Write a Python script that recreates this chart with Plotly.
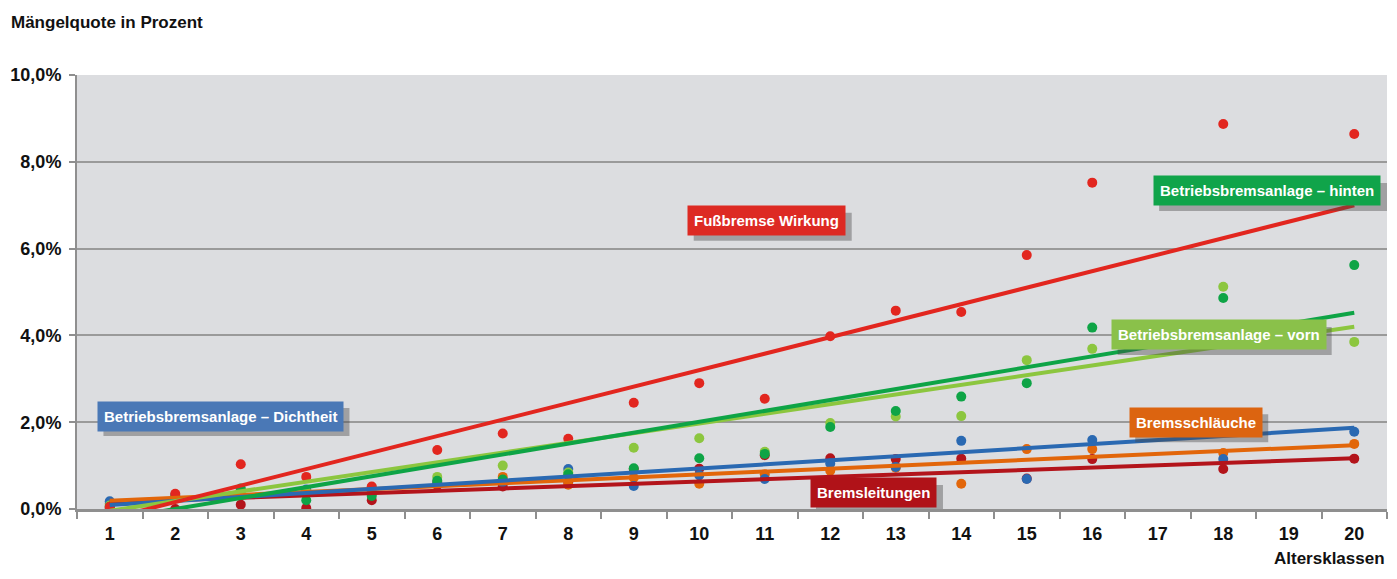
import plotly.graph_objects as go

# Altersklassen (no data for 17 and 19)
klassen = [1, 2, 3, 4, 5, 6, 7, 8, 9, 10, 11, 12, 13, 14, 15, 16, 18, 20]

# Mängelquote in % per series
fussbremse = [0.05, 0.35, 1.03, 0.74, 0.52, 1.36, 1.74, 1.62, 2.45, 2.90, 2.54, 3.98, 4.57, 4.54, 5.85, 7.52, 8.87, 8.64]
hinten = [0.05, 0.25, 0.47, 0.20, 0.30, 0.65, 0.68, 0.80, 0.94, 1.17, 1.27, 1.89, 2.26, 2.59, 2.90, 4.18, 4.86, 5.62]
vorn = [0.08, 0.28, 0.45, 0.40, 0.50, 0.74, 1.00, 0.84, 1.41, 1.63, 1.32, 1.98, 2.13, 2.14, 3.43, 3.69, 5.12, 3.85]
dichtheit = [0.18, 0.32, 0.35, 0.45, 0.40, 0.60, 0.62, 0.92, 0.53, 0.78, 0.69, 1.05, 0.97, 1.57, 0.69, 1.59, 1.15, 1.78]
schlaeuche = [0.12, 0.30, 0.33, 0.35, 0.35, 0.62, 0.74, 0.56, 0.72, 0.58, 0.80, 0.88, 0.95, 0.58, 1.38, 1.38, 1.29, 1.50]
leitungen = [0.02, 0.00, 0.10, 0.02, 0.20, 0.55, 0.52, 0.62, 0.92, 0.93, 1.24, 1.17, 1.15, 1.16, 0.70, 1.15, 0.92, 1.16]

# trend lines as drawn (value at class 1 and class 20)
trend_x = [1, 20]
trend = {
    "fussbremse": [-0.22, 7.00],
    "hinten": [-0.25, 4.52],
    "vorn": [-0.04, 4.20],
    "dichtheit": [0.09, 1.87],
    "schlaeuche": [0.19, 1.47],
    "leitungen": [0.15, 1.17],
}

# key, values, dot colour, box colour, label, label x, label y, box width px
series = [
    ("leitungen", leitungen, "#b3141b", "#b01218", "Bremsleitungen", 12.66, 0.37, 127),
    ("schlaeuche", schlaeuche, "#e2660a", "#dc6410", "Bremsschläuche", 17.58, 2.0, 133),
    ("dichtheit", dichtheit, "#2a69b2", "#4a78b6", "Betriebsbremsanlage – Dichtheit", 2.69, 2.14, 246),
    ("vorn", vorn, "#8cc63f", "#8ac14a", "Betriebsbremsanlage – vorn", 17.93, 4.01, 214),
    ("hinten", hinten, "#0ea446", "#10a44a", "Betriebsbremsanlage – hinten", 18.67, 7.33, 228),
    ("fussbremse", fussbremse, "#e2261f", "#dd2a23", "Fußbremse Wirkung", 11.03, 6.64, 158),
]

fig = go.Figure()

for key, vals, col, _, name, _, _, _ in series:
    fig.add_trace(go.Scatter(x=klassen, y=vals, mode="markers", name=name,
                             marker=dict(color=col, size=10), showlegend=False))

for key, vals, col, _, name, _, _, _ in series:
    fig.add_trace(go.Scatter(x=trend_x, y=trend[key], mode="lines",
                             line=dict(color=col, width=4), showlegend=False,
                             hoverinfo="skip"))

label_font = "Liberation Sans Narrow, Arial Narrow, Liberation Sans, Arial, sans-serif"
box_h = 28
for key, vals, col, boxcol, name, lx, ly, bw in series:
    # drop shadow behind the label box
    fig.add_shape(type="rect", xref="x", yref="y", xsizemode="pixel", ysizemode="pixel",
                  xanchor=lx, yanchor=ly,
                  x0=-bw / 2 + 6, x1=bw / 2 + 6, y0=-box_h / 2 - 6, y1=box_h / 2 - 6,
                  fillcolor="rgba(70,70,70,0.4)", line=dict(width=0), layer="above")
    fig.add_annotation(x=lx, y=ly, text="<b>" + name + "</b>", showarrow=False,
                       bgcolor=boxcol, borderpad=6,
                       font=dict(family=label_font, size=15, color="white"))

fig.add_annotation(xref="paper", yref="paper", x=-0.052, y=1.122, xanchor="left", yanchor="middle",
                   text="<b>Mängelquote in Prozent</b>", showarrow=False,
                   font=dict(family=label_font, size=17, color="#111"))
fig.add_annotation(xref="paper", yref="paper", x=1.0, y=-0.1406, xanchor="right", yanchor="bottom",
                   text="<b>Altersklassen</b>", showarrow=False,
                   font=dict(family=label_font, size=17, color="#111"))

# page adds an 8px body margin, so the figure is 16px smaller than the window
fig.update_layout(
    width=1381, height=563,
    margin=dict(l=64, r=2, t=67, b=62),
    paper_bgcolor="white",
    plot_bgcolor="#dcdde0",
    separators=",.",
    font=dict(family="Liberation Sans, Arial, sans-serif", size=16, color="#111"),
)
fig.update_xaxes(
    range=[0.5, 20.5], tickvals=list(range(1, 21)), ticks="", showgrid=False, zeroline=False,
    showline=True, linecolor="#8f8f8f", linewidth=3, ticklabelstandoff=6,
    tickfont=dict(family="Liberation Sans, Arial, sans-serif", size=18, color="#111", weight="bold"),
    minor=dict(tick0=0.5, dtick=1, ticks="outside", ticklen=7, tickcolor="#8f8f8f", tickwidth=2),
)
fig.update_yaxes(
    range=[0, 10], dtick=2, tickformat=".1f", ticksuffix="%", showgrid=True,
    gridcolor="#9a9a9a", gridwidth=1.5, zeroline=False,
    showline=True, linecolor="#8f8f8f", linewidth=2,
    ticks="outside", ticklen=6, tickcolor="#8f8f8f", tickwidth=2, ticklabelstandoff=4,
    tickfont=dict(family="Liberation Sans, Arial, sans-serif", size=18, color="#111", weight="bold"),
)

fig.write_html("out.html")
